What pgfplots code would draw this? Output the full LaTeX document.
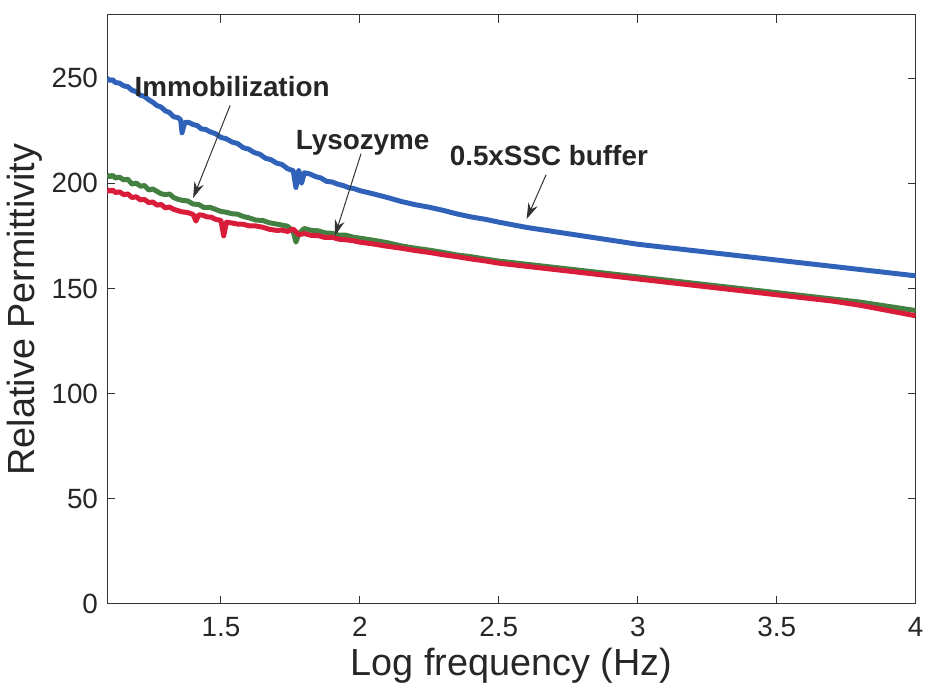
\documentclass[border=0pt]{standalone}
\usepackage{pgfplots}
\pgfplotsset{compat=1.18}
\usepackage{fontspec}
\setmainfont{Liberation Sans}
\usetikzlibrary{arrows.meta}
\definecolor{cblue}{RGB}{48,98,186}
\definecolor{cgreen}{RGB}{68,128,66}
\definecolor{cred}{RGB}{216,28,58}
\begin{document}
\begin{tikzpicture}
\begin{axis}[
  scale only axis,
  width=405bp, height=295bp,
  xmin=1.09, xmax=4, ymin=0, ymax=280,
  xtick={1.5,2,2.5,3,3.5,4},
  xticklabels={1.5,2,2.5,3,3.5,4},
  ytick={0,50,100,150,200,250},
  tick pos=both, tick align=inside,
  major tick length=4bp,
  axis line style={line width=0.5pt, black!80},
  every tick/.style={black!80, line width=0.5pt},
  /pgf/number format/assume math mode=true,
  tick label style={font=\fontsize{14}{16}\selectfont, black!85},
  xticklabel style={yshift=-3bp},
  yticklabel style={xshift=-1bp},
  xlabel={Log frequency (Hz)},
  ylabel={Relative Permittivity},
  label style={font=\fontsize{19}{22}\selectfont, black!85},
  xlabel style={yshift=1bp},
  ylabel style={yshift=-2bp},
  clip=true,
]
\addplot[cgreen, line width=2.5pt, line join=round] coordinates {
(1.09,204) (1.10,203.1) (1.11,203.8) (1.12,202.5) (1.135,202.9) (1.15,201.6) (1.165,201.9) (1.18,199.6) (1.195,200.1) (1.21,198.6) (1.225,198.9) (1.24,196.8) (1.255,197.3) (1.27,196.1) (1.285,195.0) (1.30,194.6) (1.315,194.9) (1.33,193.2) (1.345,192.4) (1.36,191.9) (1.38,191.6) (1.40,190.1) (1.42,189.9) (1.44,188.4) (1.46,188.6) (1.48,187.6) (1.50,186.6) (1.52,186.2) (1.54,185.5) (1.56,185.3) (1.58,184.2) (1.60,183.6) (1.625,182.5) (1.65,182.3) (1.675,181.2) (1.70,180.6) (1.72,180.1) (1.74,179.6) (1.76,177) (1.77,172) (1.78,176) (1.80,178.5) (1.825,177.6) (1.85,177.4) (1.875,176.4) (1.90,176.2) (1.925,175.3) (1.95,175.3) (1.975,174.4) (2.00,173.9) (2.05,172.9) (2.10,171.7) (2.15,170.2) (2.20,169.1) (2.25,168.2) (2.30,167.1) (2.35,165.9) (2.40,165.1) (2.45,164.0) (2.50,163) (2.60,161.5) (2.70,160) (2.80,158.5) (2.90,157) (3.00,155.5) (3.10,154) (3.20,152.5) (3.30,151) (3.40,149.5) (3.50,148) (3.60,146.5) (3.70,145) (3.80,143.5) (3.90,141.5) (4.00,139.5)
};
\addplot[cred, line width=2.5pt, line join=round] coordinates {
(1.09,197) (1.10,196.2) (1.11,196.8) (1.12,195.6) (1.135,195.9) (1.15,194.6) (1.165,194.9) (1.18,193.2) (1.195,193.6) (1.21,192.1) (1.225,192.3) (1.24,190.8) (1.255,191.1) (1.27,189.6) (1.285,189.9) (1.30,188.3) (1.315,188.7) (1.33,187.6) (1.345,187.0) (1.36,186.4) (1.38,186.1) (1.40,185.2) (1.41,182) (1.42,185) (1.435,184.8) (1.45,184.0) (1.465,183.9) (1.48,182.9) (1.50,182.3) (1.51,175) (1.52,181.5) (1.54,181.1) (1.56,180.6) (1.58,180.5) (1.60,179.8) (1.625,179.7) (1.65,179.1) (1.675,178.1) (1.70,177.6) (1.72,177.7) (1.74,177.1) (1.76,178.2) (1.78,175.5) (1.80,176.1) (1.825,175.2) (1.85,175.1) (1.875,174.2) (1.90,174.3) (1.925,173.4) (1.95,173.1) (1.975,172.7) (2.00,172) (2.05,171.1) (2.10,170) (2.15,169.1) (2.20,168) (2.25,167.1) (2.30,166) (2.35,165.1) (2.40,164) (2.45,163.1) (2.50,162) (2.60,160.5) (2.70,159) (2.80,157.5) (2.90,156) (3.00,154.5) (3.10,153) (3.20,151.5) (3.30,150) (3.40,148.5) (3.50,147) (3.60,145.5) (3.70,144) (3.80,142) (3.90,139.5) (4.00,137)
};
\addplot[cblue, line width=2.5pt, line join=round] coordinates {
(1.09,250) (1.10,248.9) (1.11,249.2) (1.12,247.9) (1.135,247.6) (1.15,246.3) (1.165,245.9) (1.18,244.2) (1.195,243.6) (1.21,241.8) (1.225,241.3) (1.24,239.7) (1.255,238.5) (1.27,236.9) (1.285,236.2) (1.30,234.4) (1.315,233.6) (1.33,231.6) (1.345,231.2) (1.355,230.2) (1.36,224) (1.37,229) (1.385,228.9) (1.40,227.9) (1.415,227.4) (1.43,225.8) (1.445,225.6) (1.46,224.5) (1.48,223.6) (1.50,221.8) (1.52,221.1) (1.54,219.6) (1.56,218.9) (1.58,216.9) (1.60,216.2) (1.62,214.6) (1.64,213.8) (1.66,211.9) (1.68,211.2) (1.70,209.6) (1.72,208.9) (1.74,206.9) (1.76,206) (1.77,198) (1.78,206) (1.79,200) (1.80,205) (1.82,204.4) (1.84,203.2) (1.86,202.5) (1.88,200.9) (1.90,200.6) (1.92,199.6) (1.94,198.9) (1.96,197.9) (1.98,197.4) (2.00,196.5) (2.05,194.9) (2.10,193.2) (2.15,191.3) (2.20,189.8) (2.25,188.6) (2.30,187.1) (2.35,185.4) (2.40,184) (2.45,182.9) (2.50,181.5) (2.60,179) (2.70,177) (2.80,175) (2.90,173) (3.00,171) (3.10,169.5) (3.20,168) (3.30,166.5) (3.40,165) (3.50,163.5) (3.60,162) (3.70,160.5) (3.80,159) (3.90,157.5) (4.00,156)
};
\node[font=\bfseries\fontsize{14}{16}\selectfont, black!85] at (axis cs:1.54,246) {Immobilization};
\node[font=\bfseries\fontsize{14}{16}\selectfont, black!85] at (axis cs:2.01,219) {Lysozyme};
\node[font=\bfseries\fontsize{14}{16}\selectfont, black!85] at (axis cs:2.68,213) {0.5xSSC buffer};
\draw[black!80, line width=0.5pt, -{Stealth[length=8bp,width=5bp]}] (axis cs:1.533,237) -- (axis cs:1.40,193);
\draw[black!80, line width=0.5pt, -{Stealth[length=8bp,width=5bp]}] (axis cs:2.004,214) -- (axis cs:1.91,175);
\draw[black!80, line width=0.5pt, -{Stealth[length=8bp,width=5bp]}] (axis cs:2.67,204) -- (axis cs:2.60,183);
\end{axis}
\path ([yshift=7.5bp]current axis.north west) -- ([yshift=7.5bp]current axis.north east);
\end{tikzpicture}
\end{document}
